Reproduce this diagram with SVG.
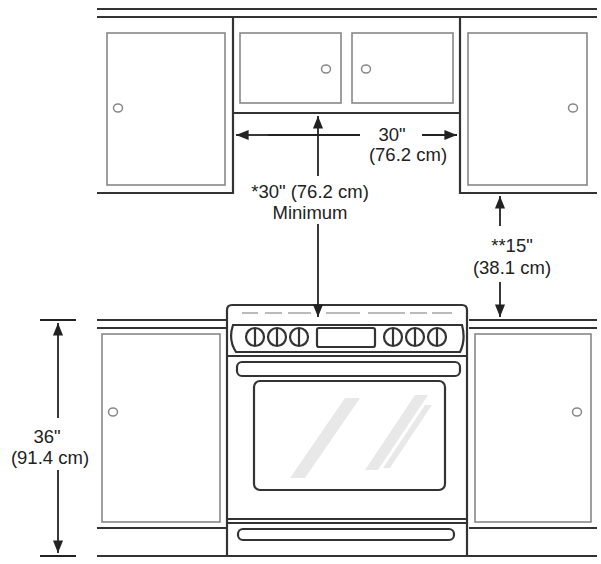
<svg xmlns="http://www.w3.org/2000/svg" width="601" height="564" viewBox="0 0 601 564">
<defs>
<marker id="ah" viewBox="0 0 10 10" refX="10" refY="5" markerWidth="7" markerHeight="7" orient="auto-start-reverse"><path d="M0,1 L10,5 L0,9 Z" fill="#222"/></marker>
<style>
.k{fill:none;stroke:#333;stroke-width:2.2}
.d{fill:none;stroke:#888;stroke-width:1.6}
.n{fill:#fff;stroke:#888;stroke-width:1.5}
.a{stroke:#222;stroke-width:1.8;fill:none}
text{font-family:"Liberation Sans",Arial,sans-serif;font-size:18.5px;fill:#222;text-anchor:middle}
</style>
</defs>
<rect width="601" height="564" fill="#fff"/>
<g id="upper-cabinets">
<line class="k" x1="97" y1="9" x2="597" y2="9"/>
<line class="k" x1="97" y1="17" x2="597" y2="17"/>
<polyline class="k" points="97,193 233,193 233,17"/>
<polyline class="k" points="597,193 460,193 460,17"/>
<line class="k" x1="233" y1="113" x2="460" y2="113"/>
<rect class="d" x="107" y="33" width="118" height="152"/>
<rect class="d" x="240" y="33" width="101" height="70"/>
<rect class="d" x="352" y="33" width="101" height="70"/>
<rect class="d" x="468" y="33" width="119" height="152"/>
<ellipse class="n" cx="118" cy="108" rx="4.5" ry="4"/>
<ellipse class="n" cx="326" cy="69" rx="4.5" ry="4"/>
<ellipse class="n" cx="366" cy="69" rx="4.5" ry="4"/>
<ellipse class="n" cx="573" cy="108" rx="4.5" ry="4"/>
</g>
<g id="lower-cabinets">
<line class="k" x1="97" y1="320" x2="227" y2="320"/>
<line class="k" x1="97" y1="328" x2="227" y2="328"/>
<line class="k" x1="469" y1="320" x2="597" y2="320"/>
<line class="k" x1="469" y1="328" x2="597" y2="328"/>
<line class="k" x1="97" y1="556" x2="597" y2="556"/>
<line class="k" x1="97" y1="528" x2="227" y2="528"/>
<line class="k" x1="469" y1="528" x2="597" y2="528"/>
<rect class="d" x="102" y="334" width="118" height="188"/>
<rect class="d" x="475" y="334" width="116" height="188"/>
<ellipse class="n" cx="113" cy="412" rx="4.5" ry="4"/>
<ellipse class="n" cx="577" cy="412" rx="4.5" ry="4"/>
</g>
<g id="range">
<path class="k" d="M227,355 L227,310 Q227,305 232,305 L462,305 Q467,305 467,310 L467,355"/>
<g stroke="#bbb" stroke-width="2"><line x1="242" y1="313" x2="258" y2="313"/><line x1="265" y1="313" x2="282" y2="313"/><line x1="288" y1="313" x2="311" y2="313"/><line x1="326" y1="313" x2="360" y2="313"/><line x1="368" y1="313" x2="405" y2="313"/><line x1="410" y1="313" x2="427" y2="313"/><line x1="432" y1="313" x2="452" y2="313"/></g>
<path class="k" d="M233,325 Q228,340 236,352 L460,352 Q466,340 462,325 Z" stroke-width="1.6"/>
<g class="k" stroke-width="1.6">
<circle cx="255" cy="337" r="9"/><circle cx="277" cy="337" r="9"/><circle cx="299" cy="337" r="9"/>
<circle cx="393" cy="337" r="9"/><circle cx="415" cy="337" r="9"/><circle cx="437" cy="337" r="9"/>
<line x1="255" y1="329" x2="255" y2="345"/><line x1="277" y1="329" x2="277" y2="345"/><line x1="299" y1="329" x2="299" y2="345"/>
<line x1="393" y1="329" x2="393" y2="345"/><line x1="415" y1="329" x2="415" y2="345"/><line x1="437" y1="329" x2="437" y2="345"/>
<rect x="317" y="328" width="58" height="19" rx="2"/>
</g>
<polyline class="k" points="227,355 227,556"/>
<polyline class="k" points="467,355 467,556"/>
<line class="k" x1="227" y1="356" x2="467" y2="356"/>
<rect class="k" x="237" y="362" width="223" height="14" rx="5" stroke-width="1.8"/>
<rect class="k" x="254" y="381" width="191" height="109" rx="6" stroke-width="1.8"/>
<g fill="#e8e8e8"><polygon points="345,398 360,398 305,478 290,478"/><polygon points="415,395 428,395 378,470 365,470"/><polygon points="425,405 432,405 390,468 383,468"/></g>
<line class="k" x1="227" y1="519" x2="467" y2="519"/>
<line class="k" x1="227" y1="523" x2="467" y2="523"/>
<rect class="k" x="238" y="529" width="216" height="11" rx="5" stroke-width="1.8"/>
</g>
<g id="connectors">
<line class="a" x1="236" y1="135" x2="268" y2="135" marker-start="url(#ah)"/>
<line class="a" x1="268" y1="135" x2="360" y2="135"/>
<line class="a" x1="422" y1="135" x2="457" y2="135" marker-end="url(#ah)"/>
<line class="a" x1="318" y1="116" x2="318" y2="176" marker-start="url(#ah)"/>
<line class="a" x1="318" y1="224" x2="318" y2="317" marker-end="url(#ah)"/>
<line class="a" x1="500" y1="196" x2="500" y2="226" marker-start="url(#ah)"/>
<line class="a" x1="500" y1="282" x2="500" y2="317" marker-end="url(#ah)"/>
<line class="a" x1="58" y1="323" x2="58" y2="418" marker-start="url(#ah)"/>
<line class="a" x1="58" y1="470" x2="58" y2="553" marker-end="url(#ah)"/>
<line class="a" x1="40" y1="320" x2="76" y2="320"/>
<line class="a" x1="40" y1="556" x2="76" y2="556"/>
</g>
<g id="labels">
<text x="392" y="141">30"</text>
<text x="408" y="161">(76.2 cm)</text>
<text x="310" y="198">*30" (76.2 cm)</text>
<text x="310" y="219">Minimum</text>
<text x="512" y="252">**15"</text>
<text x="512" y="274">(38.1 cm)</text>
<text x="47" y="443">36"</text>
<text x="50" y="464">(91.4 cm)</text>
</g>
</svg>
